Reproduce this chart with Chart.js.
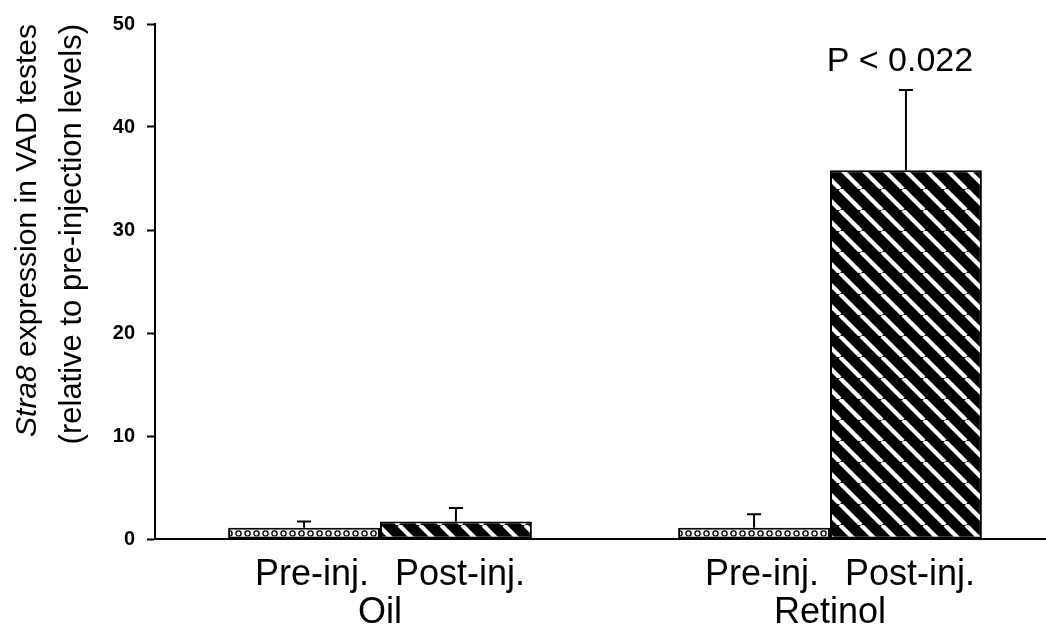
<!DOCTYPE html>
<html>
<head>
<meta charset="utf-8">
<script src="https://cdn.jsdelivr.net/npm/chart.js@4.4.1/dist/chart.umd.min.js"></script>
<style>
  html, body { margin: 0; padding: 0; background: #ffffff; overflow: hidden; }
  #wrap { width: 1046px; height: 636px; position: relative; overflow: hidden; }
  #c { position: absolute; left: 0; top: 0; }
</style>
</head>
<body>
<div id="wrap"><canvas id="c" width="1055" height="636"></canvas></div>
<script>
// ---- Data ----
const categories = ['Oil', 'Retinol'];
const conditions = ['Pre-inj.', 'Post-inj.'];
const preValues = [1.1, 1.1];
const postValues = [1.7, 35.8];
const preErrors = [0.6, 1.3];
const postErrors = [1.3, 7.8];
const yTicks = [0, 10, 20, 30, 40, 50];
const yTitleItalic = 'Stra8';
const yTitleLine1 = ' expression in VAD testes';
const yTitleLine2 = '(relative to pre-injection levels)';
const pLabel = 'P < 0.022';

const FONT = '"Liberation Sans", Arial, Helvetica, sans-serif';

// ---- Patterns ----
function circlePattern() {
  const t = document.createElement('canvas');
  t.width = 9; t.height = 12;
  const g = t.getContext('2d');
  g.fillStyle = '#f2f2f2';
  g.fillRect(0, 0, 9, 12);
  g.strokeStyle = '#000';
  g.lineWidth = 1.3;
  g.beginPath();
  g.arc(4.5, 5.5, 2.6, 0, Math.PI * 2);
  g.stroke();
  return g.createPattern(t, 'repeat');
}
function stripePattern() {
  const s = 21;
  const t = document.createElement('canvas');
  t.width = s; t.height = s;
  const g = t.getContext('2d');
  g.fillStyle = '#000';
  g.fillRect(0, 0, s, s);
  g.strokeStyle = '#fff';
  g.lineWidth = 4.2;
  for (let k = -1; k <= 1; k++) {
    g.beginPath();
    g.moveTo(k * s, 0);
    g.lineTo(k * s + s, s);
    g.stroke();
  }
  return g.createPattern(t, 'repeat');
}

const errorsByDataset = [preErrors, postErrors];

const errorBarPlugin = {
  id: 'errorBars',
  afterDatasetsDraw(chart) {
    const ctx = chart.ctx;
    const y = chart.scales.y;
    ctx.save();
    ctx.strokeStyle = '#000';
    ctx.lineWidth = 2;
    chart.data.datasets.forEach((ds, i) => {
      const meta = chart.getDatasetMeta(i);
      meta.data.forEach((el, j) => {
        const v = ds.data[j];
        const e = errorsByDataset[i][j];
        const top = y.getPixelForValue(v + e);
        ctx.beginPath();
        ctx.moveTo(el.x, el.y);
        ctx.lineTo(el.x, top);
        ctx.moveTo(el.x - 7, top);
        ctx.lineTo(el.x + 7, top);
        ctx.stroke();
      });
    });
    // significance label above Retinol post-injection bar
    const el = chart.getDatasetMeta(1).data[1];
    const top = y.getPixelForValue(postValues[1] + postErrors[1]);
    ctx.fillStyle = '#000';
    ctx.font = '34px ' + FONT;
    ctx.textAlign = 'center';
    ctx.textBaseline = 'alphabetic';
    ctx.fillText(pLabel, el.x - 6, top - 19);
    ctx.restore();
  }
};

const labelsPlugin = {
  id: 'labels',
  afterDraw(chart) {
    const ctx = chart.ctx;
    const xs = chart.scales.x;
    const area = chart.chartArea;
    ctx.save();
    ctx.fillStyle = '#000';
    ctx.textBaseline = 'alphabetic';
    ctx.textAlign = 'center';
    ctx.font = '36px ' + FONT;
    const m0 = chart.getDatasetMeta(0), m1 = chart.getDatasetMeta(1);
    categories.forEach((cat, i) => {
      ctx.fillText(conditions[0], m0.data[i].x + 8, area.bottom + 46);
      ctx.fillText(conditions[1], m1.data[i].x + 4, area.bottom + 46);
      ctx.fillText(cat, xs.getPixelForValue(i), area.bottom + 84);
    });
    // y-axis title (two lines, rotated)
    const endY = area.top;
    ctx.textAlign = 'left';
    const italicFont = 'italic 30px ' + FONT;
    const normalFont = '30px ' + FONT;
    ctx.font = italicFont;
    const wI = ctx.measureText(yTitleItalic).width;
    ctx.font = normalFont;
    const wN = ctx.measureText(yTitleLine1).width;
    ctx.save();
    ctx.translate(36, endY);
    ctx.rotate(-Math.PI / 2);
    const start1 = -(wI + wN);
    ctx.font = italicFont;
    ctx.fillText(yTitleItalic, start1, 0);
    ctx.font = normalFont;
    ctx.fillText(yTitleLine1, start1 + wI, 0);
    ctx.restore();
    ctx.save();
    ctx.translate(81, endY);
    ctx.rotate(-Math.PI / 2);
    ctx.font = '31px ' + FONT;
    ctx.textAlign = 'right';
    ctx.fillText(yTitleLine2, 0, 0);
    ctx.restore();
    ctx.restore();
  }
};

const chart = new Chart(document.getElementById('c'), {
  type: 'bar',
  data: {
    labels: categories,
    datasets: [
      {
        label: conditions[0],
        data: preValues,
        backgroundColor: circlePattern(),
        borderColor: '#000',
        borderWidth: 2,
        borderSkipped: false,
        barPercentage: 1.0,
        categoryPercentage: 0.675
      },
      {
        label: conditions[1],
        data: postValues,
        backgroundColor: stripePattern(),
        borderColor: '#000',
        borderWidth: 2,
        borderSkipped: false,
        barPercentage: 1.0,
        categoryPercentage: 0.675
      }
    ]
  },
  options: {
    responsive: false,
    animation: false,
    devicePixelRatio: 1,
    layout: { padding: { top: 23, right: 0, left: 0, bottom: 0 } },
    plugins: {
      legend: { display: false },
      tooltip: { enabled: false },
      title: { display: false }
    },
    scales: {
      x: {
        type: 'category',
        grid: { display: false },
        border: { display: true, color: '#000', width: 2 },
        ticks: { display: false },
        afterFit(scale) { scale.height = 97; }
      },
      y: {
        min: 0,
        max: 50,
        afterBuildTicks(scale) { scale.ticks = yTicks.map(v => ({ value: v })); },
        grid: {
          display: true,
          drawOnChartArea: false,
          drawTicks: true,
          tickLength: 8,
          tickWidth: 2,
          color: '#000'
        },
        border: { display: true, color: '#000', width: 2 },
        ticks: {
          color: '#000',
          padding: 12,
          font: { family: FONT, size: 20, weight: 'bold' }
        },
        afterFit(scale) { scale.width = 155; }
      }
    }
  },
  plugins: [errorBarPlugin, labelsPlugin]
});
</script>
</body>
</html>
